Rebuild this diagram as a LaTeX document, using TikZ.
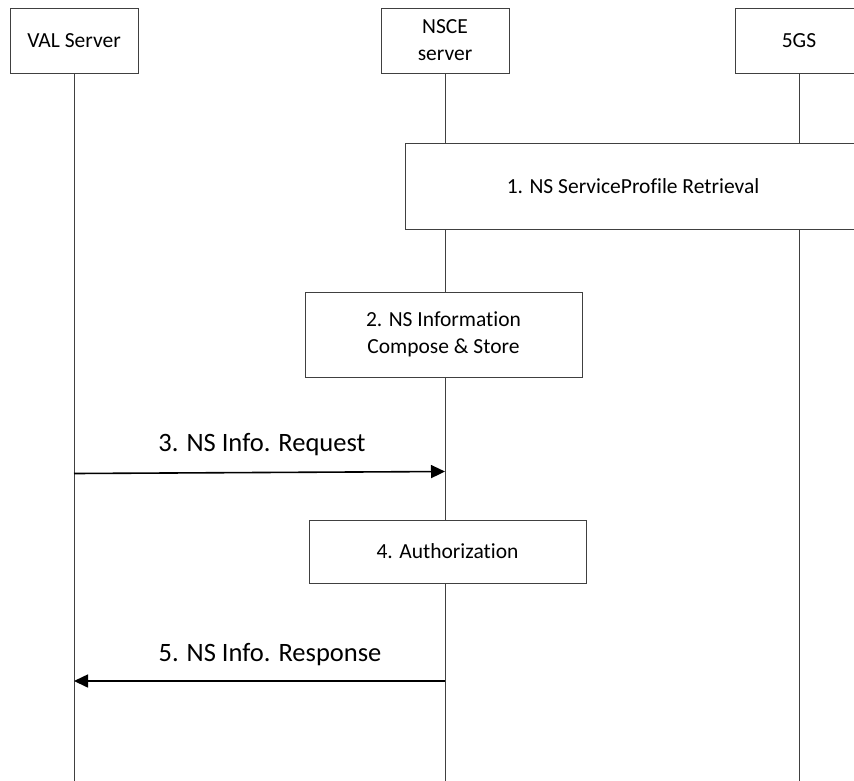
\documentclass[tikz,border=0pt]{standalone}
\usepackage{fontspec}
\setmainfont{Carlito}[Ligatures=NoCommon]
\usetikzlibrary{arrows.meta}
\begin{document}
\begin{tikzpicture}[x=1pt,y=-1pt,
  hdr/.style={draw=black!75, line width=1pt, fill=white, minimum width=128pt, minimum height=65pt, inner sep=0pt, font=\fontsize{21.5}{27}\selectfont, align=center},
  act/.style={draw=black!75, line width=1pt, fill=white, inner sep=0pt, font=\fontsize{21.5}{27}\selectfont, align=center},
  life/.style={draw=black!75, line width=1pt},
  msg/.style={draw=black, line width=1.6pt, -{Triangle[length=14pt,width=13pt]}},
  lbl/.style={font=\fontsize{26.5}{30}\selectfont, inner sep=0pt}]
\useasboundingbox (0,0) rectangle (854,780);
% headers
\node[hdr] (val) at (74,40.5) {VAL Server};
\node[hdr] (nsce) at (445,40.5) {NSCE\\server};
\node[hdr] (fgs) at (799,40.5) {5GS};
% lifeline ends
\coordinate (valend) at (val.south |- 0,781);
\coordinate (nsceend) at (nsce.south |- 0,781);
\coordinate (fgsend) at (fgs.south |- 0,781);
\draw[life] (val.south) -- (valend);
\draw[life] (nsce.south) -- (nsceend);
\draw[life] (fgs.south) -- (fgsend);
% action boxes
\node[act, minimum width=456pt, minimum height=86pt] (s1) at (633,186) {1. NS ServiceProfile Retrieval};
\node[act, minimum width=277pt, minimum height=85pt] (s2) at (443.5,334.5) {2. NS Information\\Compose \& Store};
\node[act, minimum width=277pt, minimum height=63pt] (s4) at (447.5,551.5) {4. Authorization};
% messages
\coordinate (m3a) at (val.south |- 0,473.5);
\coordinate (m3b) at (nsce.south |- 0,471.5);
\draw[msg] (m3a) -- (m3b);
\node[lbl] (l3) at (262,444.5) {3. NS Info. Request};
\coordinate (m5a) at (nsce.south |- 0,681);
\coordinate (m5b) at (val.south |- 0,681);
\draw[msg] (m5a) -- (m5b);
\node[lbl] (l5) at (270,654.5) {5. NS Info. Response};
\end{tikzpicture}
\end{document}
